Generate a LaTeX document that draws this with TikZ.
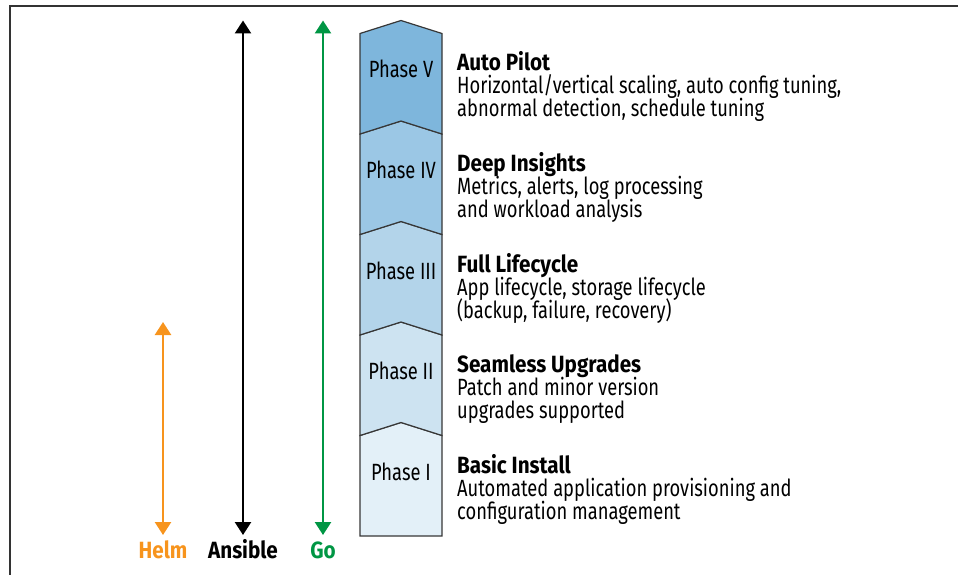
\documentclass[tikz,border=0pt]{standalone}
\usepackage{fontspec}
\setmainfont{Fira Sans}[FakeStretch=0.78, BoldFeatures={FakeStretch=0.88}]
\usetikzlibrary{arrows.meta}

\definecolor{helmorange}{RGB}{247,148,29}
\definecolor{gogreen}{RGB}{0,150,68}
\definecolor{phaseline}{RGB}{55,55,55}
\definecolor{phasefive}{RGB}{126,182,220}
\definecolor{phasefour}{RGB}{155,199,229}
\definecolor{phasethree}{RGB}{179,212,234}
\definecolor{phasetwo}{RGB}{205,227,241}
\definecolor{phaseone}{RGB}{227,240,248}

\newcommand{\infofont}{\fontsize{23.5}{23}\selectfont\lineskiplimit=-20pt\relax}

\begin{document}
\begin{tikzpicture}[x=1pt, y=-1pt]
    \tikzstyle{phase} = [draw=phaseline, line width=1.2pt, line join=miter, fill={#1}]
    \tikzstyle{tool} = [line width=2.6pt, color={#1},
        {Triangle[width=16pt,length=13pt]}-{Triangle[width=16pt,length=13pt]}]
    \tikzstyle{toolname} = [anchor=base, inner sep=0pt, text={#1},
        font=\infofont\bfseries]
    \tikzstyle{phasename} = [anchor=base, inner sep=0pt, font=\infofont]
    \tikzstyle{info} = [anchor=base west, inner sep=0pt, align=left, font=\infofont]
    \useasboundingbox (0, 0) rectangle (958, 575);
    % frame
    \draw[line width=1.4pt, black!80] (10, 575) -- (10, 6) -- (958, 6);
    % phase stack, bottom to top
    \draw[phase=phaseone] (360, 536) -- (442, 536) -- (442, 435.5) -- (401, 422.5) -- (360, 435.5) -- cycle;
    \draw[phase=phasetwo] (360, 435.5) -- (401, 422.5) -- (442, 435.5) -- (442, 335) -- (401, 322) -- (360, 335) -- cycle;
    \draw[phase=phasethree] (360, 335) -- (401, 322) -- (442, 335) -- (442, 234.5) -- (401, 221.5) -- (360, 234.5) -- cycle;
    \draw[phase=phasefour] (360, 234.5) -- (401, 221.5) -- (442, 234.5) -- (442, 134) -- (401, 121) -- (360, 134) -- cycle;
    \draw[phase=phasefive] (360, 134) -- (401, 121) -- (442, 134) -- (442, 33.5) -- (401, 20.5) -- (360, 33.5) -- cycle;
    \node[phasename] (phase5) at (401, 78) {Phase V};
    \node[phasename] (phase4) at (401, 178.5) {Phase IV};
    \node[phasename] (phase3) at (401, 279) {Phase III};
    \node[phasename] (phase2) at (401, 379.5) {Phase II};
    \node[phasename] (phase1) at (401, 480) {Phase I};
    % descriptions (base is the last line)
    \node[info] (autopilot) at (457, 117) {\textbf{Auto Pilot}\\Horizontal/vertical scaling, auto config tuning,\\abnormal detection, schedule tuning};
    \node[info] (insights) at (457, 217.5) {\textbf{Deep Insights}\\Metrics, alerts, log processing\\and workload analysis};
    \node[info] (lifecycle) at (457, 318) {\textbf{Full Lifecycle}\\App lifecycle, storage lifecycle\\(backup, failure, recovery)};
    \node[info] (upgrades) at (457, 418.5) {\textbf{Seamless Upgrades}\\Patch and minor version\\upgrades supported};
    \node[info] (install) at (457, 519) {\textbf{Basic Install}\\Automated application provisioning and\\configuration management};
    % tools
    \node[toolname=helmorange] (helm) at (163, 558) {Helm};
    \node[toolname=black] (ansible) at (243, 558) {Ansible};
    \node[toolname=gogreen] (go) at (323, 558) {Go};
    \coordinate (helm top) at (163, 322);
    \coordinate (helm end) at (163, 535);
    \coordinate (ansible top) at (243, 20.5);
    \coordinate (ansible end) at (243, 535);
    \coordinate (go top) at (323, 20.5);
    \coordinate (go end) at (323, 535);
    \draw[tool=helmorange] (helm end) -- (helm top);
    \draw[tool=black] (ansible end) -- (ansible top);
    \draw[tool=gogreen] (go end) -- (go top);
\end{tikzpicture}
\end{document}
